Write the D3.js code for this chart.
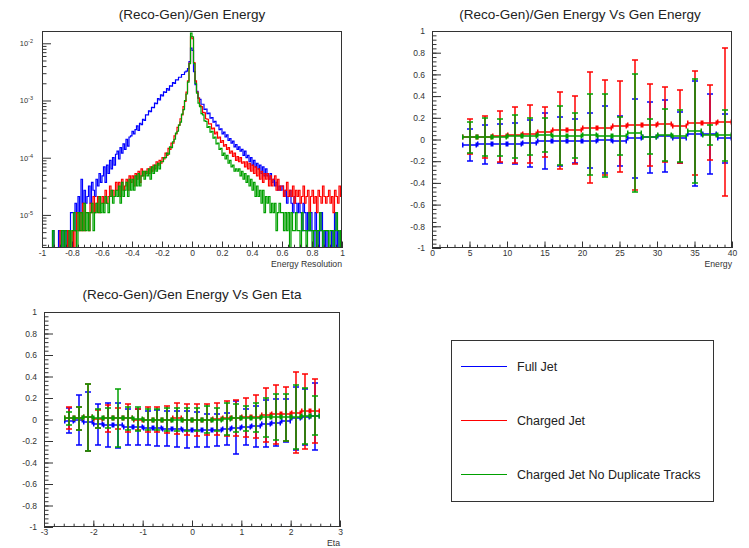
<!DOCTYPE html>
<html lang="en">
<head>
<meta charset="utf-8">
<script src="https://d3js.org/d3.v7.min.js"></script>
<style>
    body { margin: 0; background: #fff; }
    text { font-family: "Liberation Sans", Arial, sans-serif; fill: #222; }
    .title { font-size: 13.5px; }
    .tick text { font-size: 8.5px; fill: #333; }
    .tick line { stroke: #333; }
    .axis-title { font-size: 8.7px; fill: #333; }
    .frame { fill: none; stroke: #333; stroke-width: 1; }
    .legend-text { font-size: 12.5px; fill: #222; }
</style>
</head>
<body>
<div id="chart"></div>
<script>
// ---- data ----
const seriesNames = ["Full Jet", "Charged Jet", "Charged Jet No Duplicate Tracks"];
const seriesColors = ["#0000ff", "#ff0000", "#00a000"];

// (Reco-Gen)/Gen energy histograms, 200 bins of 0.01 from -1 to 1 (normalised)
const resBinLow = d3.range(200).map(i => -1 + i * 0.01);
const fullJetRes = [
    0,0,0,0,0,0,0,5.3e-6,0,0,
    0,5.3e-6,0,0,5.3e-6,0,5.3e-6,0,5.3e-6,1.1e-5,
    1.1e-5,5.3e-6,1.6e-5,1.1e-5,2.1e-5,1.1e-5,4.2e-5,1.6e-5,2.7e-5,1.6e-5,
    2.1e-5,3.2e-5,1.6e-5,3.7e-5,2.7e-5,2.1e-5,4.2e-5,3.2e-5,5.3e-5,3.7e-5,
    4.8e-5,6.9e-5,3.7e-5,7.4e-5,5.3e-5,9.0e-5,6.4e-5,1.0e-4,7.4e-5,1.15e-4,
    1.3e-4,9.5e-5,1.5e-4,1.2e-4,1.75e-4,1.4e-4,2.1e-4,1.6e-4,2.3e-4,2.4e-4,
    2.9e-4,2.6e-4,3.1e-4,3.6e-4,3.0e-4,4.0e-4,3.8e-4,4.7e-4,4.5e-4,5.6e-4,
    5.6e-4,6.6e-4,6.4e-4,7.6e-4,7.5e-4,9.0e-4,8.8e-4,1.08e-3,1.02e-3,1.25e-3,
    1.2e-3,1.42e-3,1.38e-3,1.62e-3,1.52e-3,1.8e-3,1.78e-3,2.05e-3,2.0e-3,2.3e-3,
    2.3e-3,2.55e-3,2.55e-3,2.85e-3,2.85e-3,3.15e-3,3.25e-3,3.6e-3,4.8e-3,8.2e-3,
    7.5e-3,3.2e-3,1.9e-3,1.45e-3,1.1e-3,1.05e-3,8.6e-4,8.6e-4,7.0e-4,7.1e-4,
    5.9e-4,6.0e-4,4.9e-4,5.0e-4,4.2e-4,4.3e-4,3.6e-4,3.7e-4,3.1e-4,3.2e-4,
    2.6e-4,2.8e-4,2.3e-4,2.5e-4,2.0e-4,2.15e-4,1.8e-4,1.95e-4,1.55e-4,1.7e-4,
    1.4e-4,1.55e-4,1.3e-4,1.4e-4,1.1e-4,1.3e-4,1.0e-4,1.1e-4,8.5e-5,1.0e-4,
    7.4e-5,9.0e-5,6.9e-5,8.0e-5,6.4e-5,7.4e-5,5.3e-5,6.9e-5,4.8e-5,6.4e-5,
    4.8e-5,4.2e-5,5.3e-5,3.7e-5,4.2e-5,3.2e-5,3.7e-5,2.7e-5,3.2e-5,2.7e-5,
    3.2e-5,2.1e-5,2.7e-5,1.6e-5,2.1e-5,2.7e-5,1.6e-5,1.1e-5,2.1e-5,1.6e-5,
    1.1e-5,1.6e-5,1.1e-5,5.3e-6,1.6e-5,1.1e-5,5.3e-6,1.1e-5,5.3e-6,1.1e-5,
    5.3e-6,0,1.1e-5,5.3e-6,0,5.3e-6,1.1e-5,0,5.3e-6,0,
    5.3e-6,0,0,5.3e-6,0,1.1e-5,0,5.3e-6,0,0
];
const chargedJetRes = [
    0,0,0,0,0,0,0,0,0,0,
    0,0,5.3e-6,0,0,0,0,5.3e-6,0,0,
    5.3e-6,0,5.3e-6,1.1e-5,5.3e-6,1.1e-5,5.3e-6,1.6e-5,5.3e-6,1.1e-5,
    1.1e-5,5.3e-6,1.6e-5,1.1e-5,2.1e-5,1.1e-5,1.6e-5,2.1e-5,1.1e-5,1.6e-5,
    2.1e-5,1.6e-5,2.7e-5,1.6e-5,2.1e-5,3.2e-5,2.1e-5,2.7e-5,2.1e-5,3.7e-5,
    2.7e-5,3.7e-5,2.1e-5,4.2e-5,2.7e-5,3.2e-5,4.2e-5,2.7e-5,4.8e-5,3.7e-5,
    4.8e-5,3.2e-5,5.3e-5,4.2e-5,5.8e-5,3.7e-5,6.4e-5,4.8e-5,5.8e-5,5.3e-5,
    6.4e-5,5.3e-5,6.9e-5,5.8e-5,7.4e-5,6.4e-5,8.5e-5,7.4e-5,9.0e-5,8.0e-5,
    1.0e-4,9.5e-5,1.2e-4,1.1e-4,1.45e-4,1.4e-4,1.8e-4,1.8e-4,2.4e-4,2.6e-4,
    3.4e-4,3.7e-4,4.8e-4,5.6e-4,7.8e-4,9.6e-4,1.4e-3,2.2e-3,4.5e-3,1.3e-2,
    1.2e-2,4.6e-3,2.2e-3,1.4e-3,1.1e-3,8.2e-4,7.8e-4,6.2e-4,6.1e-4,4.8e-4,
    4.7e-4,3.9e-4,3.9e-4,3.2e-4,3.3e-4,2.6e-4,2.8e-4,2.2e-4,2.3e-4,1.85e-4,
    2.0e-4,1.6e-4,1.7e-4,1.4e-4,1.5e-4,1.2e-4,1.3e-4,1.05e-4,1.2e-4,9.0e-5,
    1.05e-4,8.5e-5,1.0e-4,8.0e-5,8.5e-5,6.9e-5,8.5e-5,6.4e-5,8.0e-5,5.8e-5,
    7.4e-5,5.3e-5,6.9e-5,4.8e-5,6.4e-5,4.2e-5,5.8e-5,3.7e-5,5.3e-5,4.2e-5,
    5.3e-5,3.2e-5,4.8e-5,3.2e-5,4.2e-5,4.8e-5,2.7e-5,4.2e-5,2.7e-5,3.2e-5,
    3.2e-5,2.1e-5,2.7e-5,3.7e-5,2.1e-5,2.7e-5,2.1e-5,3.2e-5,1.6e-5,2.7e-5,
    2.1e-5,2.7e-5,1.6e-5,2.1e-5,3.2e-5,1.6e-5,2.1e-5,2.7e-5,1.1e-5,2.1e-5,
    2.7e-5,1.6e-5,2.1e-5,1.1e-5,2.7e-5,2.1e-5,1.6e-5,3.2e-5,2.1e-5,1.6e-5,
    2.1e-5,2.7e-5,1.6e-5,2.1e-5,1.1e-5,2.7e-5,2.1e-5,1.6e-5,3.2e-5,2.1e-5
];
const noDupRes = [
    0,0,0,0,0,0,0,5.3e-6,0,0,
    0,0,0,5.3e-6,0,5.3e-6,0,0,5.3e-6,0,
    5.3e-6,1.1e-5,5.3e-6,0,1.1e-5,5.3e-6,1.1e-5,5.3e-6,1.6e-5,5.3e-6,
    1.1e-5,5.3e-6,1.1e-5,1.6e-5,5.3e-6,1.1e-5,1.6e-5,1.1e-5,2.1e-5,1.1e-5,
    1.6e-5,1.1e-5,2.1e-5,1.6e-5,1.1e-5,2.1e-5,2.7e-5,1.6e-5,2.1e-5,2.7e-5,
    2.1e-5,3.2e-5,1.6e-5,3.7e-5,2.1e-5,2.7e-5,3.7e-5,2.1e-5,4.2e-5,2.7e-5,
    4.2e-5,2.7e-5,4.8e-5,3.2e-5,5.3e-5,3.2e-5,4.8e-5,5.8e-5,4.2e-5,5.8e-5,
    4.8e-5,6.4e-5,4.2e-5,6.9e-5,5.3e-5,7.4e-5,5.8e-5,8.0e-5,6.4e-5,8.5e-5,
    8.5e-5,1.0e-4,1.0e-4,1.2e-4,1.15e-4,1.55e-4,1.5e-4,1.9e-4,2.1e-4,2.7e-4,
    2.9e-4,3.7e-4,4.2e-4,5.8e-4,6.9e-4,1.0e-3,1.3e-3,2.1e-3,4.4e-3,1.5e-2,
    1.3e-2,4.4e-3,2.0e-3,1.35e-3,9.0e-4,7.8e-4,5.9e-4,5.6e-4,4.4e-4,4.3e-4,
    3.4e-4,3.5e-4,2.8e-4,2.9e-4,2.2e-4,2.3e-4,1.75e-4,1.8e-4,1.4e-4,1.45e-4,
    1.1e-4,1.2e-4,9.5e-5,1.1e-4,8.0e-5,9.0e-5,6.9e-5,7.4e-5,5.8e-5,6.4e-5,
    5.8e-5,6.4e-5,4.8e-5,5.8e-5,4.2e-5,5.3e-5,3.7e-5,4.8e-5,3.2e-5,4.2e-5,
    2.7e-5,3.7e-5,2.1e-5,3.2e-5,2.1e-5,2.7e-5,1.6e-5,2.7e-5,1.1e-5,2.1e-5,
    1.6e-5,2.1e-5,1.1e-5,1.6e-5,1.1e-5,1.6e-5,5.3e-6,1.1e-5,1.6e-5,1.1e-5,
    1.1e-5,5.3e-6,1.1e-5,5.3e-6,1.1e-5,0,1.1e-5,5.3e-6,5.3e-6,1.1e-5,
    5.3e-6,5.3e-6,0,1.1e-5,5.3e-6,5.3e-6,0,5.3e-6,1.1e-5,5.3e-6,
    0,5.3e-6,5.3e-6,0,5.3e-6,1.1e-5,5.3e-6,0,5.3e-6,5.3e-6,
    5.3e-6,0,5.3e-6,5.3e-6,0,5.3e-6,1.1e-5,5.3e-6,0,5.3e-6
];

// profile vs gen energy: bins of width 2 from 4 to 40
const energyCenters = [5, 7, 9, 11, 13, 15, 17, 19, 21, 23, 25, 27, 29, 31, 33, 35, 37, 39];
const fullJetVsE = [-0.05, -0.045, -0.04, -0.04, -0.035, -0.015, -0.015, -0.015, -0.01, 0.0, -0.015, 0.01, 0.02, 0.03, 0.015, 0.055, 0.05, 0.01];
const fullJetVsEErr = [0.15, 0.18, 0.18, 0.19, 0.215, 0.255, 0.225, 0.205, 0.25, 0.305, 0.23, 0.365, 0.325, 0.33, 0.235, 0.485, 0.37, 0.225];
const chargedJetVsE = [0.025, 0.025, 0.03, 0.04, 0.05, 0.065, 0.085, 0.085, 0.11, 0.11, 0.12, 0.13, 0.135, 0.14, 0.12, 0.15, 0.155, 0.16];
const chargedJetVsEErr = [0.16, 0.195, 0.235, 0.26, 0.265, 0.23, 0.355, 0.315, 0.51, 0.435, 0.415, 0.6, 0.375, 0.345, 0.335, 0.48, 0.345, 0.685];
const noDupVsE = [0.02, 0.02, 0.02, 0.03, 0.03, 0.04, 0.035, 0.035, 0.045, 0.035, 0.035, 0.06, 0.025, 0.04, 0.03, 0.08, 0.04, 0.04];
const noDupVsEErr = [0.14, 0.175, 0.17, 0.2, 0.17, 0.155, 0.27, 0.205, 0.37, 0.38, 0.175, 0.54, 0.16, 0.24, 0.24, 0.48, 0.09, 0.235];

// profile vs gen eta: bins of width 0.2 from -2.6 to 2.6
const etaCenters = [-2.5, -2.3, -2.1, -1.9, -1.7, -1.5, -1.3, -1.1, -0.9, -0.7, -0.5, -0.3, -0.1,
                    0.1, 0.3, 0.5, 0.7, 0.9, 1.1, 1.3, 1.5, 1.7, 1.9, 2.1, 2.3, 2.5];
const fullJetVsEta = [-0.01, -0.005, -0.02, -0.045, -0.055, -0.055, -0.07, -0.07, -0.08, -0.08, -0.085, -0.09, -0.095,
                      -0.095, -0.1, -0.095, -0.085, -0.075, -0.07, -0.065, -0.04, -0.03, -0.01, 0.01, 0.025, 0.03];
const fullJetVsEtaErr = [0.12, 0.23, 0.275, 0.19, 0.205, 0.21, 0.17, 0.165, 0.16, 0.165, 0.16, 0.165, 0.17,
                         0.165, 0.155, 0.15, 0.15, 0.25, 0.17, 0.19, 0.22, 0.22, 0.2, 0.29, 0.26, 0.31];
const chargedJetVsEta = [0.015, 0.01, 0.02, 0.005, 0.01, 0.01, 0.01, 0.0, 0.0, 0.0, 0.0, 0.01, 0.0,
                         -0.005, 0.0, 0.005, 0.01, 0.015, 0.02, 0.025, 0.04, 0.05, 0.05, 0.065, 0.075, 0.08];
const chargedJetVsEtaErr = [0.1, 0.11, 0.31, 0.085, 0.125, 0.1, 0.13, 0.1, 0.115, 0.12, 0.13, 0.145, 0.14,
                            0.145, 0.14, 0.15, 0.165, 0.17, 0.18, 0.2, 0.25, 0.275, 0.25, 0.38, 0.35, 0.295];
const noDupVsEta = [0.01, 0.01, 0.02, 0.01, 0.015, 0.015, 0.01, 0.005, 0.0, 0.0, 0.0, 0.0, 0.0,
                    0.0, 0.0, 0.0, 0.005, 0.01, 0.01, 0.015, 0.02, 0.02, 0.02, 0.025, 0.03, 0.035];
const noDupVsEtaErr = [0.06, 0.11, 0.31, 0.085, 0.09, 0.27, 0.11, 0.11, 0.1, 0.1, 0.11, 0.11, 0.11,
                       0.11, 0.13, 0.11, 0.145, 0.13, 0.12, 0.135, 0.18, 0.215, 0.22, 0.295, 0.26, 0.18];

// tick values
const resTicks = [-1, -0.8, -0.6, -0.4, -0.2, 0, 0.2, 0.4, 0.6, 0.8, 1];
const logTicks = [1e-5, 1e-4, 1e-3, 1e-2];
const profileYTicks = [-1, -0.8, -0.6, -0.4, -0.2, 0, 0.2, 0.4, 0.6, 0.8, 1];
const energyTicks = [0, 5, 10, 15, 20, 25, 30, 35, 40];
const etaTicks = [-3, -2, -1, 0, 1, 2, 3];

// ---- chart ----
const svg = d3.select("#chart").append("svg")
    .attr("width", 749)
    .attr("height", 548);

const numFmt = d => String(+d.toFixed(2));

function panel(id, x0, y0, w, h, title, titleX, titleY) {
    const g = svg.append("g").attr("transform", `translate(${x0},${y0})`);
    g.append("clipPath").attr("id", id).append("rect").attr("width", w).attr("height", h);
    svg.append("text").attr("class", "title")
        .attr("x", titleX).attr("y", titleY)
        .attr("text-anchor", "middle").text(title);
    return g;
}

function bottomAxis(g, x, h, major, minor, fmt) {
    g.append("g").attr("transform", `translate(0,${h})`)
        .call(d3.axisBottom(x).tickValues(minor).tickSize(-3.3).tickFormat(""))
        .call(a => a.select(".domain").remove());
    g.append("g").attr("transform", `translate(0,${h})`)
        .call(d3.axisBottom(x).tickValues(major).tickSize(-6.5).tickPadding(2).tickFormat(fmt))
        .call(a => a.select(".domain").remove());
}

function leftAxis(g, y, major, minor, fmt, pad) {
    g.append("g")
        .call(d3.axisLeft(y).tickValues(minor).tickSize(-4.5).tickFormat(""))
        .call(a => a.select(".domain").remove());
    return g.append("g")
        .call(d3.axisLeft(y).tickValues(major).tickSize(-9).tickPadding(pad).tickFormat(fmt))
        .call(a => a.select(".domain").remove());
}

function frame(g, w, h) {
    g.append("rect").attr("class", "frame").attr("x", 0.5).attr("y", 0.5)
        .attr("width", w - 1).attr("height", h - 1);
}

// -- panel 1: resolution histograms (log y) --
{
    const w = 300, h = 217;
    const g = panel("clip1", 42, 31, w, h, "(Reco-Gen)/Gen Energy", 192, 19);
    const x = d3.scaleLinear().domain([-1, 1]).range([0, w]);
    const y = d3.scaleLog().domain([2.64e-6, 1.64e-2]).range([h, 0]);
    const yMin = y.domain()[0];

    const hists = [fullJetRes, chargedJetRes, noDupRes];
    const line = d3.line().x(d => x(d[0])).y(d => y(Math.max(d[1], yMin)));
    const dg = g.append("g").attr("clip-path", "url(#clip1)");
    hists.forEach((vals, s) => {
        const pts = [[-1, 0]];
        vals.forEach((v, i) => {
            pts.push([resBinLow[i], v]);
            pts.push([resBinLow[i] + 0.01, v]);
        });
        pts.push([1, 0]);
        dg.append("path").datum(pts)
            .attr("d", line)
            .attr("fill", "none")
            .attr("stroke", seriesColors[s])
            .attr("stroke-width", 1.2);
    });

    bottomAxis(g, x, h, resTicks, d3.range(-1, 1.001, 0.04), numFmt);

    const logMinor = [];
    [-6, -5, -4, -3, -2].forEach(k => d3.range(2, 10).forEach(m => {
        const v = m * Math.pow(10, k);
        if (v > yMin && v < y.domain()[1]) logMinor.push(v);
    }));
    const ya = leftAxis(g, y, logTicks, logMinor, () => "", 9);
    ya.selectAll(".tick text").each(function (d) {
        const t = d3.select(this).style("font-size", "7.5px");
        t.append("tspan").text("10");
        t.append("tspan").attr("dy", "-0.55em").style("font-size", "5.5px")
            .text(String(Math.round(Math.log10(d))));
    });

    g.append("text").attr("class", "axis-title")
        .attr("x", w).attr("y", h + 18.5).attr("text-anchor", "end")
        .text("Energy Resolution");
    frame(g, w, h);
}

// -- profile helper --
function drawProfiles(g, x, y, centers, half, series, clipId) {
    const dg = g.append("g").attr("clip-path", `url(#${clipId})`);
    const r = Math.round;
    series.forEach(s => {
        const sg = dg.append("g").attr("stroke", s.color).attr("stroke-width", 1.5).attr("fill", "none");
        const pts = centers.map((c, j) => ({ c: c, m: s.mean[j], e: s.err[j] }));
        // horizontal bin-width bars with end ticks
        sg.selectAll("line.hb").data(pts).join("line").attr("class", "hb")
            .attr("x1", d => r(x(d.c - half))).attr("x2", d => r(x(d.c + half)))
            .attr("y1", d => r(y(d.m))).attr("y2", d => r(y(d.m)));
        sg.selectAll("line.hl").data(pts).join("line").attr("class", "hl")
            .attr("x1", d => r(x(d.c - half)) + 0.75).attr("x2", d => r(x(d.c - half)) + 0.75)
            .attr("y1", d => r(y(d.m)) - 2.5).attr("y2", d => r(y(d.m)) + 2.5);
        sg.selectAll("line.hr").data(pts).join("line").attr("class", "hr")
            .attr("x1", d => r(x(d.c + half)) - 0.75).attr("x2", d => r(x(d.c + half)) - 0.75)
            .attr("y1", d => r(y(d.m)) - 2.5).attr("y2", d => r(y(d.m)) + 2.5);
        // vertical error bars with caps
        sg.selectAll("line.vb").data(pts).join("line").attr("class", "vb")
            .attr("x1", d => r(x(d.c))).attr("x2", d => r(x(d.c)))
            .attr("y1", d => r(y(d.m + d.e))).attr("y2", d => r(y(d.m - d.e)));
        sg.selectAll("line.ct").data(pts).join("line").attr("class", "ct")
            .attr("x1", d => r(x(d.c)) - 3).attr("x2", d => r(x(d.c)) + 3)
            .attr("y1", d => r(y(d.m + d.e))).attr("y2", d => r(y(d.m + d.e)));
        sg.selectAll("line.cb").data(pts).join("line").attr("class", "cb")
            .attr("x1", d => r(x(d.c)) - 3).attr("x2", d => r(x(d.c)) + 3)
            .attr("y1", d => r(y(d.m - d.e))).attr("y2", d => r(y(d.m - d.e)));
    });
}

// -- panel 2: vs gen energy --
{
    const w = 300, h = 217;
    const g = panel("clip2", 432, 31, w, h, "(Reco-Gen)/Gen Energy Vs Gen Energy", 580, 19);
    const x = d3.scaleLinear().domain([0, 40]).range([0, w]);
    const y = d3.scaleLinear().domain([-1, 1]).range([h, 0]);
    drawProfiles(g, x, y, energyCenters, 1, [
        { color: seriesColors[0], mean: fullJetVsE, err: fullJetVsEErr },
        { color: seriesColors[1], mean: chargedJetVsE, err: chargedJetVsEErr },
        { color: seriesColors[2], mean: noDupVsE, err: noDupVsEErr }
    ], "clip2");
    bottomAxis(g, x, h, energyTicks, d3.range(0, 40.01, 1), numFmt);
    leftAxis(g, y, profileYTicks, d3.range(-1, 1.001, 0.04), numFmt, 7);
    g.append("text").attr("class", "axis-title")
        .attr("x", w).attr("y", h + 18.5).attr("text-anchor", "end").text("Energy");
    frame(g, w, h);
}

// -- panel 3: vs gen eta --
{
    const w = 296, h = 215;
    const g = panel("clip3", 44, 312, w, h, "(Reco-Gen)/Gen Energy Vs Gen Eta", 192, 299);
    const x = d3.scaleLinear().domain([-3, 3]).range([0, w]);
    const y = d3.scaleLinear().domain([-1, 1]).range([h, 0]);
    drawProfiles(g, x, y, etaCenters, 0.1, [
        { color: seriesColors[0], mean: fullJetVsEta, err: fullJetVsEtaErr },
        { color: seriesColors[1], mean: chargedJetVsEta, err: chargedJetVsEtaErr },
        { color: seriesColors[2], mean: noDupVsEta, err: noDupVsEtaErr }
    ], "clip3");
    bottomAxis(g, x, h, etaTicks, d3.range(-3, 3.001, 0.2), numFmt);
    leftAxis(g, y, profileYTicks, d3.range(-1, 1.001, 0.04), numFmt, 7);
    g.append("text").attr("class", "axis-title")
        .attr("x", w).attr("y", h + 19).attr("text-anchor", "end").text("Eta");
    frame(g, w, h);
}

// -- legend --
{
    const lg = svg.append("g").attr("transform", "translate(451,340)");
    lg.append("rect").attr("class", "frame").attr("x", 0.5).attr("y", 0.5)
        .attr("width", 262).attr("height", 161);
    const ly = d3.scalePoint().domain(seriesNames).range([26.5, 134.5]);
    const items = lg.selectAll("g.item").data(seriesNames).join("g").attr("class", "item")
        .attr("transform", d => `translate(0,${ly(d)})`);
    items.append("line").attr("x1", 10).attr("x2", 56).attr("y1", 0).attr("y2", 0)
        .attr("stroke", (d, i) => seriesColors[i]).attr("stroke-width", 1.2);
    items.append("text").attr("class", "legend-text").attr("x", 66).attr("y", 4.5).text(d => d);
}
</script>
</body>
</html>
